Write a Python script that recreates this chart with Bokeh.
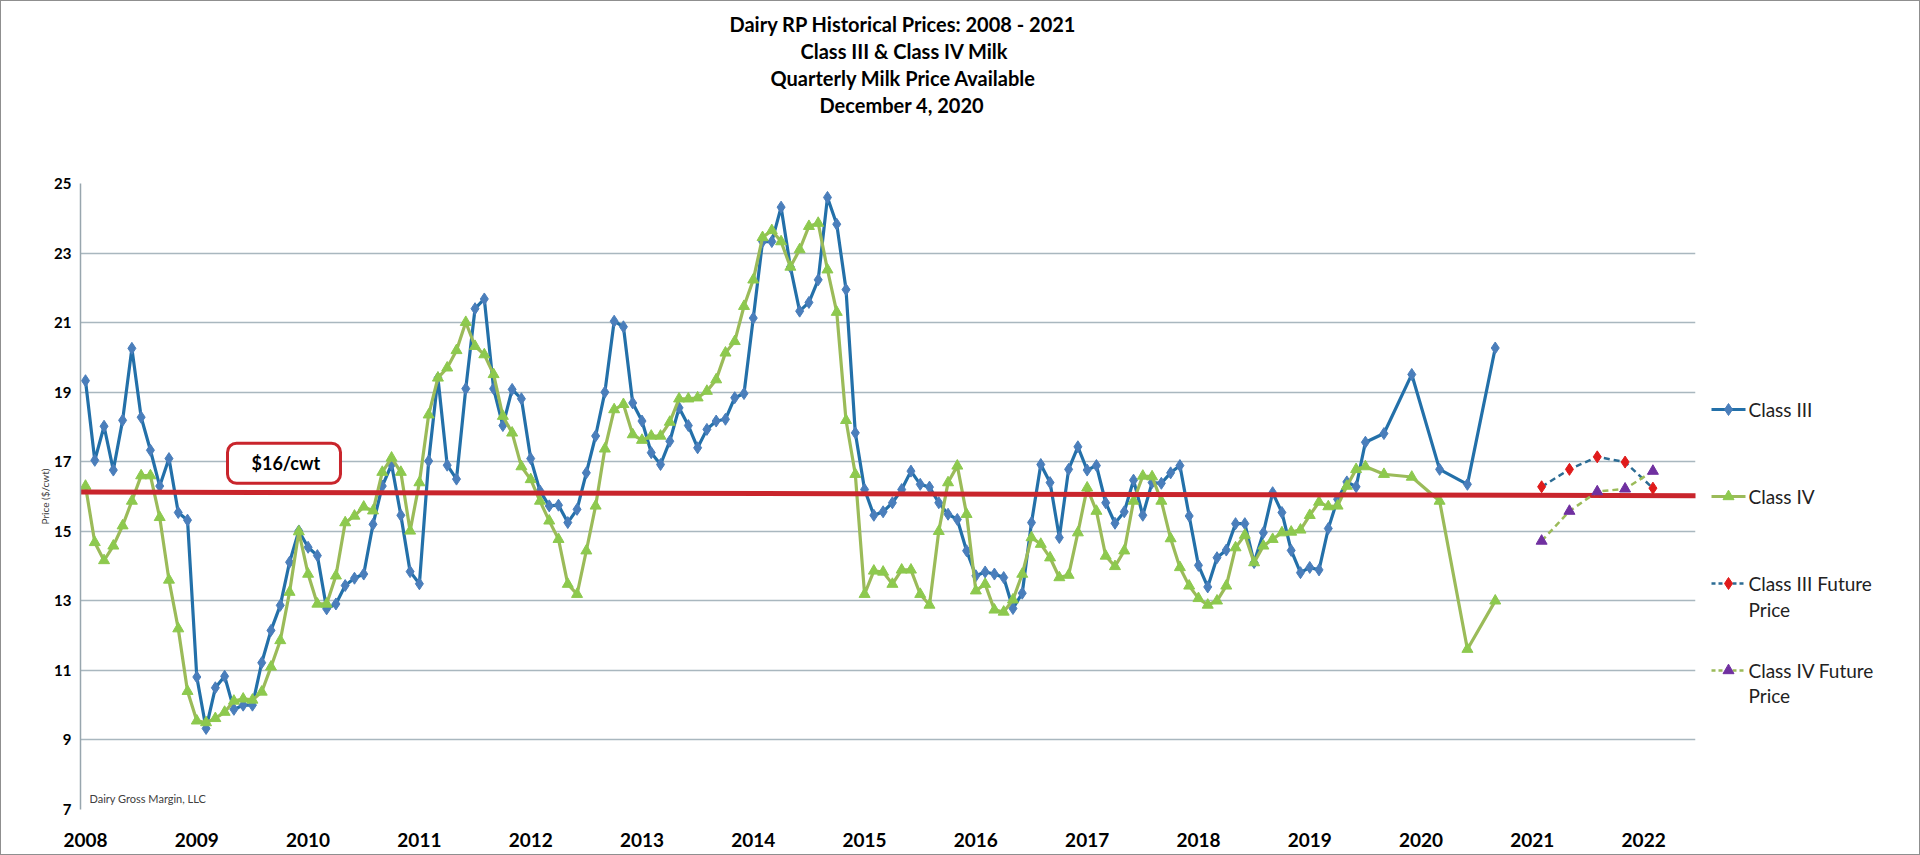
from bokeh.plotting import figure
from bokeh.layouts import row
from bokeh.core.properties import value
from bokeh.models import Range1d, FixedTicker, Label, BoxAnnotation, Title
from bokeh.embed import file_html
from bokeh.resources import INLINE


''' DATA (read from the reference chart) '''

years = list(range(2008, 2023))
y_ticks = [7, 9, 11, 13, 15, 17, 19, 21, 23, 25]

# Monthly prices, Jan 2008 .. Jun 2019 ($/cwt)
class3_monthly = [
    19.33, 17.04, 18.02, 16.76, 18.19, 20.26, 18.28, 17.33, 16.30, 17.09, 15.54, 15.32,
    10.81, 9.33, 10.50, 10.83, 9.88, 10.00, 10.00, 11.22, 12.15, 12.87, 14.11, 15.01,
    14.54, 14.30, 12.77, 12.91, 13.44, 13.65, 13.77, 15.20, 16.30, 16.92, 15.46, 13.84,
    13.49, 17.02, 19.41, 16.90, 16.50, 19.10, 21.40, 21.68, 19.10, 18.04, 19.08, 18.81,
    17.09, 16.16, 15.73, 15.75, 15.25, 15.63, 16.68, 17.74, 19.00, 21.04, 20.88, 18.69,
    18.17, 17.26, 16.92, 17.59, 18.55, 18.04, 17.40, 17.93, 18.17, 18.22, 18.84, 18.96,
    21.13, 23.33, 23.33, 24.32, 22.60, 21.33, 21.58, 22.23, 24.60, 23.83, 21.95, 17.83,
    16.20, 15.46, 15.56, 15.82, 16.20, 16.73, 16.35, 16.27, 15.82, 15.49, 15.34, 14.44,
    13.72, 13.83, 13.77, 13.67, 12.78, 13.22, 15.25, 16.92, 16.40, 14.82, 16.78, 17.43,
    16.76, 16.89, 15.82, 15.23, 15.56, 16.47, 15.46, 16.40, 16.38, 16.68, 16.89, 15.44,
    14.02, 13.40, 14.24, 14.46, 15.22, 15.22, 14.10, 14.96, 16.11, 15.54, 14.45, 13.81,
    13.96, 13.89, 15.08, 15.92, 16.42, 16.28,
]
class4_monthly = [
    16.30, 14.68, 14.16, 14.58, 15.16, 15.87, 16.60, 16.60, 15.40, 13.60, 12.20, 10.40,
    9.55, 9.50, 9.62, 9.80, 10.12, 10.18, 10.15, 10.38, 11.10, 11.86, 13.25, 14.99,
    13.77, 12.91, 12.91, 13.72, 15.25, 15.44, 15.70, 15.59, 16.70, 17.11, 16.70, 15.01,
    16.40, 18.35, 19.41, 19.70, 20.20, 21.01, 20.32, 20.08, 19.51, 18.31, 17.83, 16.86,
    16.49, 15.87, 15.30, 14.77, 13.48, 13.19, 14.44, 15.73, 17.37, 18.50, 18.65, 17.78,
    17.62, 17.74, 17.74, 18.14, 18.81, 18.81, 18.84, 19.03, 19.36, 20.13, 20.46, 21.47,
    22.23, 23.45, 23.65, 23.33, 22.60, 23.10, 23.77, 23.86, 22.52, 21.30, 18.19, 16.64,
    13.19, 13.86, 13.83, 13.48, 13.89, 13.89, 13.19, 12.88, 15.00, 16.40, 16.88, 15.49,
    13.29, 13.48, 12.74, 12.68, 13.03, 13.77, 14.82, 14.63, 14.24, 13.67, 13.74, 14.96,
    16.25, 15.58, 14.29, 13.99, 14.44, 15.87, 16.59, 16.57, 15.87, 14.79, 13.96, 13.43,
    13.07, 12.88, 13.00, 13.43, 14.53, 14.89, 14.10, 14.58, 14.77, 14.96, 14.98, 15.04,
    15.46, 15.84, 15.71, 15.73, 16.30, 16.78,
]

# Quarterly prices after mid 2019
quarter_dates = ["2019-07", "2019-09", "2019-12", "2020-03", "2020-06", "2020-09"]
class3_quarterly = [17.56, 17.81, 19.51, 16.78, 16.35, 20.27]
class4_quarterly = [16.86, 16.64, 16.56, 15.87, 11.61, 13.00]

# Futures
future_dates = ["2021-02", "2021-05", "2021-08", "2021-11", "2022-02"]
class3_future = [16.28, 16.78, 17.14, 16.99, 16.24]
class4_future = [14.72, 15.58, 16.14, 16.22, 16.73]

# Hand drawn $16/cwt reference line
ref_x = [2007.9, 2022.6]
ref_y = [16.13, 16.02]

title_lines = ["Dairy RP Historical Prices: 2008 - 2021",
               "Class III & Class IV Milk",
               "Quarterly Milk Price Available",
               "December 4, 2020"]
# left edge of each title line, px from the frame's left side
title_offsets = [649, 720, 690, 739]

legend_labels = ["Class III", "Class IV", "Class III Future", "Class IV Future"]


def decimalYear(ym):
    y, m = ym.split("-")
    return int(y) + (int(m) - 1) / 12.0


monthly_dates = ["%d-%02d" % (2008 + i // 12, i % 12 + 1) for i in range(len(class3_monthly))]
x_hist = [decimalYear(d) for d in monthly_dates + quarter_dates]
class3 = class3_monthly + class3_quarterly
class4 = class4_monthly + class4_quarterly
x_fut = [decimalYear(d) for d in future_dates]

''' STYLE '''
BLUE_LINE = "#2370A9"
BLUE_MARK = "#4A7EBB"
GREEN_LINE = "#9BBB59"
GREEN_MARK = "#8DC94E"
RED = "#C9252C"
F3_LINE = "#2C6C94"
F3_MARK = "#E01B1B"
F4_MARK = "#7030A0"
FONT = "Lato"

p = figure(width=1695, height=853, output_backend="svg", toolbar_location=None,
           x_range=Range1d(2007.955, 2022.466), y_range=Range1d(7, 25),
           min_border_left=79, min_border_right=1, min_border_top=182, min_border_bottom=45)
p.outline_line_color = None
p.background_fill_color = "white"
p.border_fill_color = "white"

# title: p.title is the outermost line, the others stack upwards from the frame,
# starting with an empty spacer that keeps the block clear of the plot
p.title.text = title_lines[0]
p.title.standoff = 1
p.title.offset = title_offsets[0]
p.add_layout(Title(text=" ", standoff=40), "above")
p.add_layout(Title(text=title_lines[3], standoff=1, offset=title_offsets[3]), "above")
p.add_layout(Title(text=title_lines[2], standoff=1, offset=title_offsets[2]), "above")
p.add_layout(Title(text=title_lines[1], standoff=1, offset=title_offsets[1]), "above")
for t in [p.title] + [a for a in p.above if isinstance(a, Title)]:
    t.align = "left"
    t.text_font = FONT
    t.text_font_size = "20px"
    t.text_font_style = "bold"
    t.text_color = "black"

# axes
p.xaxis.ticker = FixedTicker(ticks=years)
p.yaxis.ticker = FixedTicker(ticks=y_ticks)
p.xaxis.major_label_overrides = {y: str(y) for y in years}
p.xaxis.axis_line_color = None
p.xaxis.major_tick_line_color = None
p.xaxis.minor_tick_line_color = None
p.xaxis.major_label_standoff = 17
p.xaxis.major_label_text_font = FONT
p.xaxis.major_label_text_font_size = "19px"
p.xaxis.major_label_text_font_style = "bold"
p.xaxis.major_label_text_color = "black"

p.yaxis.axis_line_color = "#98A6AE"
p.yaxis.axis_line_width = 1.5
p.yaxis.major_tick_line_color = None
p.yaxis.minor_tick_line_color = None
p.yaxis.major_label_standoff = 3
p.yaxis.major_label_text_font = FONT
p.yaxis.major_label_text_font_size = "15px"
p.yaxis.major_label_text_font_style = "bold"
p.yaxis.major_label_text_color = "black"
p.yaxis.axis_label = "Price ($/cwt)"
p.yaxis.axis_label_text_font = FONT
p.yaxis.axis_label_text_font_size = "10px"
p.yaxis.axis_label_text_font_style = "normal"
p.yaxis.axis_label_text_color = "#404040"
p.yaxis.axis_label_standoff = 0

p.xgrid.grid_line_color = None
p.ygrid.grid_line_color = "#A9B7BF"
p.ygrid.grid_line_width = 1.5

# series
p.line(x_hist, class3, line_color=BLUE_LINE, line_width=3.2)
p.scatter(x_hist, class3, marker="diamond", size=12, fill_color=BLUE_MARK, line_color=BLUE_MARK)
p.line(x_hist, class4, line_color=GREEN_LINE, line_width=3.2)
p.scatter(x_hist, class4, marker="triangle", size=11, fill_color=GREEN_MARK, line_color=GREEN_MARK)

# $16/cwt line
p.line(ref_x, ref_y, line_color=RED, line_width=5)

p.line(x_fut, class3_future, line_color=F3_LINE, line_width=2.5, line_dash="6 4")
p.scatter(x_fut, class3_future, marker="diamond", size=12, fill_color=F3_MARK, line_color=F3_MARK)
p.line(x_fut, class4_future, line_color=GREEN_LINE, line_width=2.5, line_dash="6 4")
p.scatter(x_fut, class4_future, marker="triangle", size=11, fill_color=F4_MARK, line_color=F4_MARK)

# callout
p.add_layout(BoxAnnotation(left=2009.276, right=2010.291, top=17.53, bottom=16.38,
                           fill_color="white", fill_alpha=1.0, line_color=RED, line_alpha=1.0,
                           line_width=3, border_radius=9))
p.add_layout(Label(x=2009.80, y=16.97, text="$16/cwt", text_align="center", text_baseline="middle",
                   text_font=FONT, text_font_size="18px", text_font_style="bold", text_color="black"))

# watermark
p.add_layout(Label(x=2008.036, y=7.33, text="Dairy Gross Margin, LLC", text_baseline="middle",
                   text_font=FONT, text_font_size="11px", text_color="#404040"))

# legend: its own small panel at the right, in page pixel coordinates
# (its frame lines up with the main frame, top 183 / bottom 809)
leg = figure(width=223, height=853, output_backend="svg", toolbar_location=None,
             x_range=Range1d(1696, 1919), y_range=Range1d(809, 183),
             x_axis_location=None, y_axis_location=None,
             min_border_left=0, min_border_right=0, min_border_top=182, min_border_bottom=45)
leg.grid.visible = False
leg.outline_line_color = None
leg.background_fill_color = "white"
leg.border_fill_color = "white"

item_y = [409, 496, 583, 670]
gx0, gx1, tx = 1711, 1745, 1748
swatches = [(BLUE_LINE, None, "diamond", BLUE_MARK),
            (GREEN_LINE, None, "triangle", GREEN_MARK),
            (F3_LINE, "4 3", "diamond", F3_MARK),
            (GREEN_LINE, "4 3", "triangle", F4_MARK)]
for yy, (lc, dash, mk, mc) in zip(item_y, swatches):
    if dash:
        leg.line([gx0, gx1], [yy, yy], line_color=lc, line_width=2.5, line_dash=dash)
    else:
        leg.line([gx0, gx1], [yy, yy], line_color=lc, line_width=3.2)
    leg.scatter([(gx0 + gx1) / 2], [yy], marker=mk, size=12 if mk == "diamond" else 11,
                fill_color=mc, line_color=mc)

leg.text([tx] * 4, item_y, text=legend_labels, text_baseline="middle",
         text_font=value(FONT), text_font_size="19px", text_color="#222222")
leg.text([tx, tx], [item_y[2] + 26, item_y[3] + 25], text=["Price", "Price"], text_baseline="middle",
         text_font=value(FONT), text_font_size="19px", text_color="#222222")

layout = row(p, leg)
layout.styles = {"border": "1px solid #8f8f8f"}

open("out.html", "w").write(file_html(layout, INLINE))
